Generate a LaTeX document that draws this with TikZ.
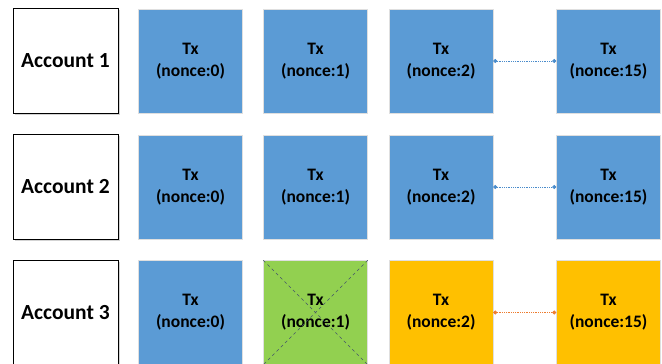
\documentclass[tikz,border=0pt]{standalone}
\usepackage{fontspec}
\setmainfont{Carlito}
\usetikzlibrary{shadows, arrows.meta}

\definecolor{txblue}{HTML}{5B9BD5}
\definecolor{txgreen}{HTML}{92D050}
\definecolor{txgold}{HTML}{FFC000}
\definecolor{linkblue}{HTML}{4A8CCB}
\definecolor{linkorange}{HTML}{ED7D31}
\definecolor{crossgray}{HTML}{44546A}

\tikzset{
  acc/.style={draw=black, line width=.6pt, fill=white, minimum size=105pt, inner sep=0pt,
    font=\bfseries\fontsize{21.5}{24}\selectfont,
    drop shadow={shadow xshift=1.5pt, shadow yshift=-1.5pt, opacity=.35}},
  tx/.style={draw=gray!25, line width=.5pt, fill=txblue, minimum size=104pt, inner sep=0pt,
    align=center, font=\bfseries\fontsize{17.5}{22}\selectfont},
  link/.style={densely dotted, line width=.8pt, {Circle[length=4pt]}-{Circle[length=4pt]}}
}

\begin{document}
\begin{tikzpicture}[x=1pt, y=-1pt]
  \useasboundingbox (0,0) rectangle (662,364);
  \clip (0,0) rectangle (662,364);

  % Account 1
  \node[acc] (acc1) at (65.5,61) {Account 1};
  \node[tx] (tx10) at (190.5,61) {Tx\\(nonce:0)};
  \node[tx] (tx11) at (315.5,61) {Tx\\(nonce:1)};
  \node[tx] (tx12) at (441,61) {Tx\\(nonce:2)};
  \node[tx] (tx115) at (608.5,61) {Tx\\(nonce:15)};
  \draw[link, linkblue] (tx12.east) -- (tx115.west);

  % Account 2
  \node[acc] (acc2) at (65.5,187) {Account 2};
  \node[tx] (tx20) at (190.5,187) {Tx\\(nonce:0)};
  \node[tx] (tx21) at (315.5,187) {Tx\\(nonce:1)};
  \node[tx] (tx22) at (441,187) {Tx\\(nonce:2)};
  \node[tx] (tx215) at (608.5,187) {Tx\\(nonce:15)};
  \draw[link, linkblue] (tx22.east) -- (tx215.west);

  % Account 3: nonce 1 missing, later txs wait
  \node[acc] (acc3) at (65.5,312.5) {Account 3};
  \node[tx] (tx30) at (190.5,312.5) {Tx\\(nonce:0)};
  \node[tx, fill=txgreen] (tx31) at (315.5,312.5) {Tx\\(nonce:1)};
  \node[tx, fill=txgold] (tx32) at (441,312.5) {Tx\\(nonce:2)};
  \node[tx, fill=txgold] (tx315) at (608.5,312.5) {Tx\\(nonce:15)};
  \draw[link, linkorange] (tx32.east) -- (tx315.west);

  % cross over the missing one
  \draw[dashed, crossgray, line width=.6pt] (tx31.north west) -- (tx31.south east);
  \draw[dashed, crossgray, line width=.6pt] (tx31.north east) -- (tx31.south west);
\end{tikzpicture}
\end{document}
